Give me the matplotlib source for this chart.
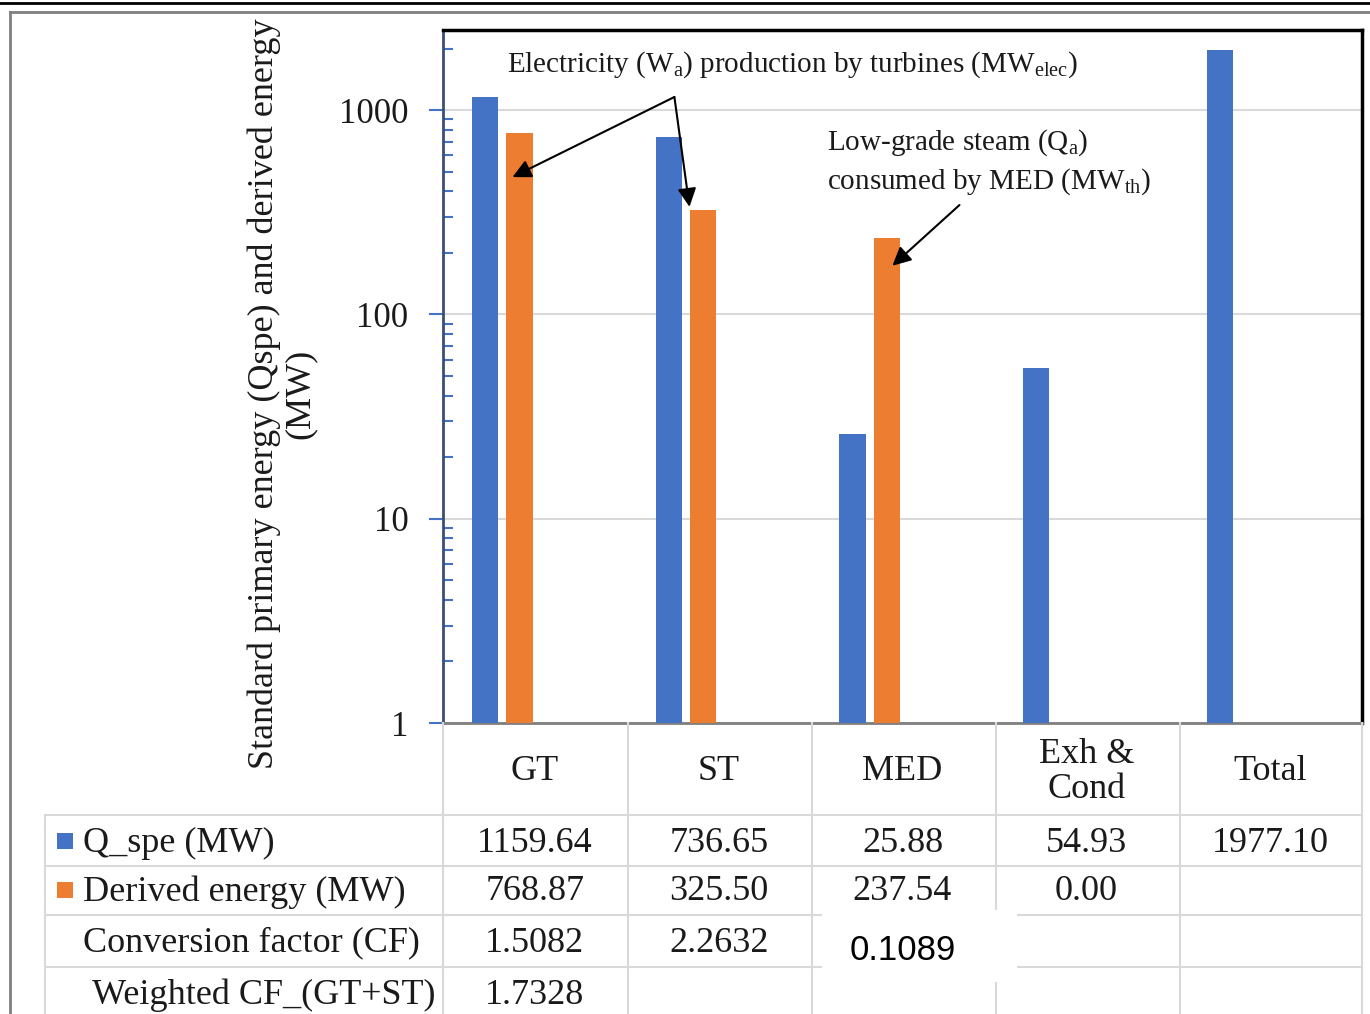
import numpy as np
import matplotlib
matplotlib.use('Agg')
import matplotlib.pyplot as plt
import matplotlib.transforms as mtransforms
from matplotlib.lines import Line2D
from matplotlib.patches import Rectangle
from matplotlib.ticker import LogLocator, NullFormatter

# data
cats = ['GT', 'ST', 'MED', 'Exh &\nCond', 'Total']
q_spe = [1159.64, 736.65, 25.88, 54.93, 1977.10]
derived = [768.87, 325.50, 237.54, 0.00, None]
cf = ['1.5082', '2.2632', '0.1089', '', '']
weighted_cf = ['1.7328', '', '', '', '']
row_labels = ['Q_spe (MW)', 'Derived energy (MW)', 'Conversion factor (CF)', 'Weighted CF_(GT+ST)']
yticks = [1, 10, 100, 1000]
ytick_labels = ['1', '10', '100', '1000']

plt.rcParams['font.family'] = 'Liberation Serif'
plt.rcParams['mathtext.fontset'] = 'custom'
plt.rcParams['mathtext.rm'] = 'Liberation Serif'
plt.rcParams['mathtext.it'] = 'Liberation Serif:italic'

blue, orange = '#4472C4', '#ED7D31'
grid_c = '#d9d9d9'
txt_c = '#1a1a1a'
fs = 26

W, H = 1370, 1014
fig = plt.figure(figsize=(W / 100, H / 100), dpi=100)


def fx(px):
    return px / W


def fy(py):
    return 1 - py / H


ax = fig.add_axes([fx(443), fy(723), 919 / W, 693 / H])
x = np.arange(len(cats))
ax.bar(x - 0.272, q_spe, width=0.142, color=blue, zorder=3)
di = [i for i, v in enumerate(derived) if v]
ax.bar(x[di] - 0.084, [derived[i] for i in di], width=0.142, color=orange, zorder=3)

ax.set_yscale('log')
ax.set_ylim(1, 2466)
ax.set_xlim(-0.5, 4.5)
ax.set_xticks([])
ax.set_yticks(yticks, ytick_labels)
ax.yaxis.set_minor_locator(LogLocator(subs=np.arange(2, 10)))
ax.yaxis.set_minor_formatter(NullFormatter())
ax.tick_params(axis='y', which='major', direction='out', length=10, width=1.5,
               color=blue, labelsize=25, labelcolor=txt_c, pad=15)
ax.tick_params(axis='y', which='minor', direction='in', length=7, width=1.5, color=blue)
ax.yaxis.grid(True, which='major', color=grid_c, lw=1.5)
ax.set_axisbelow(True)
ax.spines['left'].set_color('#3b4f74')
ax.spines['left'].set_linewidth(2)
ax.spines['bottom'].set_color('#7f7f7f')
ax.spines['bottom'].set_linewidth(2)
for s in ['top', 'right']:
    ax.spines[s].set_color('black')
    ax.spines[s].set_linewidth(2.5)

# annotations
ax.text(-0.150, 1663, 'Electricity (W$_{\\mathrm{a}}$) production by turbines (MW$_{\\mathrm{elec}}$)',
        fontsize=21, va='center', ha='left', color=txt_c)
ax.text(1.591, 690, 'Low-grade steam (Q$_{\\mathrm{a}}$)', fontsize=21, va='center', ha='left', color=txt_c)
ax.text(1.591, 445, 'consumed by MED (MW$_{\\mathrm{th}}$)', fontsize=21, va='center', ha='left', color=txt_c)
aprops = dict(arrowstyle='-|>', color='black', lw=1.5, mutation_scale=28, shrinkA=0, shrinkB=0)
ax.annotate('', xy=(-0.122, 470), xytext=(0.759, 1159), arrowprops=aprops)
ax.annotate('', xy=(0.841, 336), xytext=(0.759, 1159), arrowprops=aprops)
ax.annotate('', xy=(1.945, 173), xytext=(2.310, 343), arrowprops=aprops)

# y label
fig.text(fx(282), fy(394), 'Standard primary energy (Qspe) and derived energy\n(MW)',
         rotation=90, ha='center', va='center', multialignment='center', fontsize=fs,
         color=txt_c, linespacing=1.1)

# table below the axes
trans = mtransforms.blended_transform_factory(ax.transData, fig.transFigure)
for i, c in enumerate(cats):
    ax.text(i, fy(772), c, transform=trans, ha='center', va='center', fontsize=fs,
            color=txt_c, linespacing=1.05)

lines = []
for py in [815, 866, 915, 967]:
    lines.append(Line2D([fx(45), fx(1362)], [fy(py), fy(py)]))
for px in [443, 628, 812, 996, 1180, 1362]:
    lines.append(Line2D([fx(px), fx(px)], [fy(723), fy(1014)]))
lines.append(Line2D([fx(45), fx(45)], [fy(815), fy(1014)]))
for ln in lines:
    ln.set_color(grid_c)
    ln.set_linewidth(1.5)
    ln.set_zorder(2)
    fig.add_artist(ln)

fig.add_artist(Rectangle((fx(822), fy(982)), 195 / W, 72 / H, transform=fig.transFigure,
                         facecolor='white', edgecolor='none', zorder=3))

row_y = [843, 892, 943, 995]
label_x = [83, 83, 83, 92]
for lab, ly, lx in zip(row_labels, row_y, label_x):
    fig.text(fx(lx), fy(ly), lab, ha='left', va='center', fontsize=fs, color=txt_c)
fig.add_artist(Rectangle((fx(57), fy(849)), 16 / W, 16 / H, transform=fig.transFigure,
                         facecolor=blue, edgecolor='none', zorder=3))
fig.add_artist(Rectangle((fx(57), fy(898)), 16 / W, 16 / H, transform=fig.transFigure,
                         facecolor=orange, edgecolor='none', zorder=3))

for i in range(len(cats)):
    ax.text(i, fy(row_y[0]), f'{q_spe[i]:.2f}', transform=trans, ha='center', va='center',
            fontsize=fs, color=txt_c)
    if derived[i] is not None:
        ax.text(i, fy(row_y[1]), f'{derived[i]:.2f}', transform=trans, ha='center', va='center',
                fontsize=fs, color=txt_c)
    if cf[i]:
        if cats[i] == 'MED':
            # pasted value sits on a white box over the grid
            fig.text(i, fy(951), cf[i], transform=trans, ha='center', va='center',
                     fontsize=25, family='Liberation Sans', color='black', zorder=5)
        else:
            ax.text(i, fy(row_y[2]), cf[i], transform=trans, ha='center', va='center',
                    fontsize=fs, color=txt_c)
    if weighted_cf[i]:
        ax.text(i, fy(row_y[3]), weighted_cf[i], transform=trans, ha='center', va='center',
                fontsize=fs, color=txt_c)

# outer frame
fig.add_artist(Line2D([0, 1], [fy(3), fy(3)], color='black', lw=2))
fig.add_artist(Line2D([fx(10), 1], [fy(12), fy(12)], color='#808080', lw=2))
fig.add_artist(Line2D([fx(10), fx(10)], [fy(12), 0], color='#808080', lw=2))

fig.savefig('out.png', dpi=100)
